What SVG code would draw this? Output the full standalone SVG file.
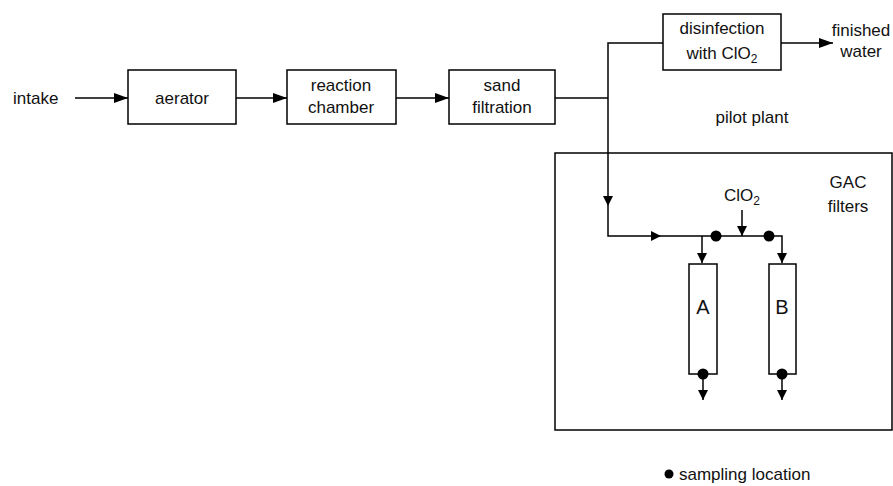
<svg xmlns="http://www.w3.org/2000/svg" width="893" height="486" viewBox="0 0 893 486">
<style>
  .box{fill:#fff;stroke:#000;stroke-width:1.5}
  .ln{fill:none;stroke:#000;stroke-width:1.5}
  .big{marker-end:url(#ah)}
  .sm{marker-end:url(#as)}
  text{font-family:"Liberation Sans",Arial,sans-serif;font-size:17px;fill:#111}
  .c{text-anchor:middle}
  .dot{fill:#000}
</style>
<defs>
  <marker id="ah" viewBox="0 0 14 10" refX="14" refY="5" markerWidth="14" markerHeight="10" markerUnits="userSpaceOnUse" orient="auto">
    <path d="M0,0 L14,5 L0,10 z" fill="#000"/>
  </marker>
  <marker id="as" viewBox="0 0 10 10" refX="10" refY="5" markerWidth="11" markerHeight="10" markerUnits="userSpaceOnUse" orient="auto">
    <path d="M0,0 L10,5 L0,10 z" fill="#000"/>
  </marker>
</defs>
<rect width="893" height="486" fill="#fff"/>

<g id="pilot-plant">
  <rect class="box" x="555" y="153" width="337" height="277" fill="none"/>
  <text class="c" x="752" y="123">pilot plant</text>
  <text class="c" x="848" y="188">GAC</text>
  <text class="c" x="848" y="212">filters</text>
</g>

<g id="intake"><text x="13" y="104">intake</text></g>
<g id="aerator">
  <rect class="box" x="128" y="70" width="108" height="54"/>
  <text class="c" x="182" y="104">aerator</text>
</g>
<g id="reaction-chamber">
  <rect class="box" x="287" y="70" width="109" height="54"/>
  <text class="c" x="341" y="91">reaction</text>
  <text class="c" x="341" y="113">chamber</text>
</g>
<g id="sand-filtration">
  <rect class="box" x="449" y="70" width="106" height="54"/>
  <text class="c" x="502" y="91">sand</text>
  <text class="c" x="502" y="113">filtration</text>
</g>
<g id="disinfection">
  <rect class="box" x="663" y="14" width="118" height="56"/>
  <text class="c" x="722" y="34">disinfection</text>
  <text class="c" x="722" y="59">with ClO<tspan font-size="12" dy="4">2</tspan></text>
</g>
<g id="finished-water">
  <text class="c" x="861" y="36">finished</text>
  <text class="c" x="861" y="57">water</text>
</g>
<g id="clo2">
  <text class="c" x="742" y="201">ClO<tspan font-size="12" dy="4">2</tspan></text>
</g>
<g id="filter-A">
  <rect class="box" x="689" y="264" width="28" height="110"/>
  <text class="c" x="703" y="314" font-size="20" style="font-size:20px">A</text>
</g>
<g id="filter-B">
  <rect class="box" x="769" y="264" width="27" height="110"/>
  <text class="c" x="782" y="314" style="font-size:20px">B</text>
</g>

<g id="connectors">
  <line class="ln big" x1="75" y1="98" x2="128" y2="98"/>
  <line class="ln big" x1="236" y1="98" x2="287" y2="98"/>
  <line class="ln big" x1="396" y1="98" x2="449" y2="98"/>
  <line class="ln" x1="555" y1="98" x2="608" y2="98"/>
  <path class="ln" d="M608,98 V43 H663"/>
  <line class="ln big" x1="781" y1="43" x2="833" y2="43"/>
  <line class="ln sm" x1="608" y1="98" x2="608" y2="206"/>
  <path class="ln sm" d="M608,206 V236 H661"/>
  <path class="ln sm" d="M661,236 H782 V263"/>
  <line class="ln sm" x1="702" y1="236" x2="702" y2="263"/>
  <line class="ln sm" x1="742" y1="210" x2="742" y2="236"/>
  <line class="ln sm" x1="703" y1="374" x2="703" y2="400"/>
  <line class="ln sm" x1="782" y1="374" x2="782" y2="400"/>
</g>

<g id="sampling-points">
  <circle class="dot" cx="716" cy="236" r="5.5"/>
  <circle class="dot" cx="769" cy="236" r="5.5"/>
  <circle class="dot" cx="703" cy="374" r="5.5"/>
  <circle class="dot" cx="782" cy="374" r="5.5"/>
</g>

<g id="legend">
  <circle class="dot" cx="669" cy="474" r="4.5"/>
  <text x="679" y="480">sampling location</text>
</g>
</svg>
